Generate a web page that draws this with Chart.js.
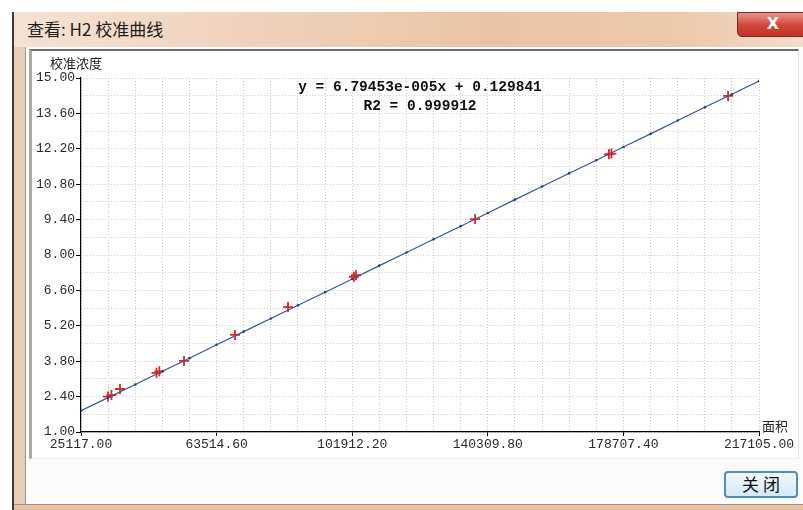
<!DOCTYPE html>
<html lang="zh-CN">
<head>
<meta charset="UTF-8">
<title>查看: H2 校准曲线</title>
<script src="https://cdn.jsdelivr.net/npm/chart.js"></script>
<style>
body { margin: 0; width: 803px; height: 510px; background: #fff; position: relative; overflow: hidden; font-family: "Noto Sans CJK SC", sans-serif; }
.frame-line { position: absolute; left: 12px; top: 12px; width: 2px; height: 498px; background: #3a3a3a; }
.frame { position: absolute; left: 14px; top: 12px; width: 789px; height: 498px; background: #e8cdb6; }
.titlebar { position: absolute; left: 14px; top: 12px; width: 789px; height: 35px;
  background: linear-gradient(to right, #f4e2d6 0%, #efd2bc 30%, #e9c4a4 60%, #ecc9aa 85%, #f2dccb 100%); }
.titlebar span { position: absolute; left: 13px; top: 4px; font-size: 17px; color: #1e1e1e; }
.close { position: absolute; left: 737px; top: 12px; width: 70px; height: 23px; border-radius: 0 0 0 5px;
  background: linear-gradient(#e8958a, #cf4538 55%, #c2342a); border: 1px solid #7a2a22; color: #fff;
  font: bold 16px "DejaVu Sans", sans-serif; text-align: center; line-height: 22px; }
.client { position: absolute; left: 25px; top: 47px; width: 778px; height: 457px; background: #fbfbfb; border-left: 1px solid #9a9a9a; }
.panel { position: absolute; left: 29px; top: 49px; width: 766px; height: 407px; background: #fff;
  border-top: 2px solid #6e6e6e; border-left: 3px solid #a9a9a9; border-right: 1px solid #e4e4e4; border-bottom: 1px solid #ececec; }
#chart { position: absolute; left: 31px; top: 52px; }
.btn { position: absolute; left: 724px; top: 471px; width: 70px; height: 23px; border: 2px solid #4d8fc0; border-radius: 4px;
  background: linear-gradient(#f2f8fc, #d4e9f6); font-size: 17px; line-height: 22px; text-align: center; color: #111; }
.bottom { position: absolute; left: 14px; top: 504px; width: 789px; height: 6px; background: #e6c3a6; border-top: 1px solid #a58d7a; }
</style>
</head>
<body>
<div class="frame"></div>
<div class="frame-line"></div>
<div class="titlebar"><span>查看: H2 校准曲线</span></div>
<div class="close">X</div>
<div class="client"></div>
<div class="panel"></div>
<canvas id="chart" width="767" height="406"></canvas>
<div class="btn">关&nbsp;闭</div>
<div class="bottom"></div>

<script>
// axis texts
const yTitle = '校准浓度';
const xTitle = '面积';
const equation = 'y = 6.79453e-005x + 0.129841';
const r2Text = 'R2 = 0.999912';

// axis range (area on x, concentration on y)
const xMin = 25117.00, xMax = 217105.00, xStep = 7679.52;
const yMin = 1.00, yMax = 15.00, yStep = 0.7;

// fitted line, one point per minor grid step
const fitArea = [25117.00, 32796.52, 40476.04, 48155.56, 55835.08, 63514.60, 71194.12, 78873.64,
  86553.16, 94232.68, 101912.20, 109591.72, 117271.24, 124950.76, 132630.28, 140309.80,
  147989.32, 155668.84, 163348.36, 171027.88, 178707.40, 186386.92, 194066.44, 201745.96,
  209425.48, 217105.00];
const fitConc = [1.84, 2.36, 2.88, 3.40, 3.92, 4.45, 4.97, 5.49, 6.01, 6.53, 7.05, 7.58, 8.10,
  8.62, 9.14, 9.66, 10.19, 10.71, 11.23, 11.75, 12.27, 12.79, 13.32, 13.84, 14.36, 14.88];

// calibration points (red crosses)
const calArea = [32760, 33730, 36160, 46500, 47300, 54290, 68730, 83740, 102400, 103000, 136700, 174600, 175300, 208350];
const calConc = [2.40, 2.46, 2.70, 3.34, 3.40, 3.81, 4.84, 5.94, 7.14, 7.20, 9.42, 11.98, 12.01, 14.29];

const fitData = fitArea.map((x, i) => ({ x: x, y: fitConc[i] }));
const calData = calArea.map((x, i) => ({ x: x, y: calConc[i] }));

const textPlugin = {
  id: 'texts',
  afterDraw(chart) {
    const { ctx, chartArea } = chart;
    ctx.save();
    ctx.fillStyle = '#222';
    ctx.textBaseline = 'middle';
    ctx.font = '13px "Noto Sans CJK SC"';
    ctx.textAlign = 'center';
    ctx.fillText(yTitle, chartArea.left - 5, chartArea.top - 15);
    ctx.textAlign = 'left';
    ctx.fillText(xTitle, chartArea.right + 3, chartArea.bottom - 6);
    const cx = (chartArea.left + chartArea.right) / 2;
    ctx.fillStyle = '#111';
    ctx.font = 'bold 14.5px "Liberation Mono"';
    ctx.textAlign = 'center';
    ctx.fillText(equation, cx, chartArea.top + 9);
    ctx.fillText(r2Text, cx, chartArea.top + 28);
    ctx.restore();
  }
};

new Chart(document.getElementById('chart'), {
  type: 'line',
  data: {
    datasets: [
      {
        label: 'fit',
        data: fitData,
        borderColor: '#34578c',
        borderWidth: 1.2,
        pointRadius: 1.3,
        pointBackgroundColor: '#23457c',
        pointBorderWidth: 0,
        tension: 0
      },
      {
        label: 'points',
        data: calData,
        showLine: false,
        pointStyle: 'cross',
        pointRadius: 5,
        pointBorderColor: '#e3242b',
        pointBorderWidth: 1.8
      }
    ]
  },
  options: {
    responsive: false,
    animation: false,
    layout: { padding: { top: 26, right: 39, left: 0, bottom: 0 } },
    plugins: { legend: { display: false }, tooltip: { enabled: false } },
    scales: {
      x: {
        type: 'linear',
        min: xMin,
        max: xMax,
        afterFit(s) { s.height = 26; s.paddingLeft = 0; s.paddingRight = 0; },
        ticks: {
          stepSize: xStep,
          autoSkip: false,
          maxRotation: 0,
          padding: 1,
          color: '#2a2a2a',
          font: { family: 'Liberation Mono', size: 13 },
          callback: (v, i) => (i % 5 === 0 ? Number(v).toFixed(2) : '')
        },
        grid: {
          color: '#cacaca',
          tickLength: 4,
          tickColor: (c) => (c.index % 5 === 0 ? '#000' : 'rgba(0,0,0,0)')
        },
        border: { color: '#000', width: 1.2, dash: [1, 2] }
      },
      y: {
        type: 'linear',
        min: yMin,
        max: yMax,
        afterFit(s) { s.width = 50; s.paddingTop = 0; s.paddingBottom = 0; },
        ticks: {
          stepSize: yStep,
          autoSkip: false,
          padding: 1,
          color: '#2a2a2a',
          font: { family: 'Liberation Mono', size: 13 },
          callback: (v, i) => (i % 2 === 0 ? Number(v).toFixed(2) : '')
        },
        grid: {
          color: '#cacaca',
          tickLength: 5,
          tickColor: (c) => (c.index % 2 === 0 ? '#000' : 'rgba(0,0,0,0)')
        },
        border: { color: '#000', width: 1.2, dash: [1, 2] }
      }
    }
  },
  plugins: [textPlugin]
});
</script>
</body>
</html>
